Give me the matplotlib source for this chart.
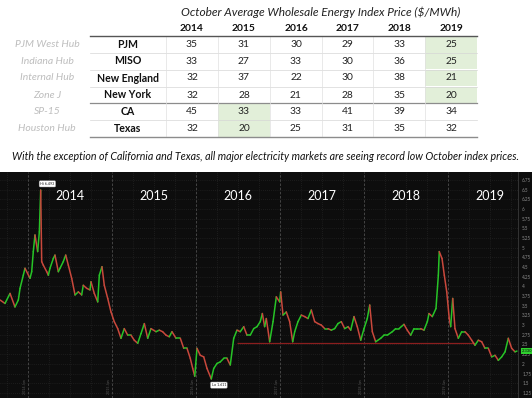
import numpy as np
import matplotlib
matplotlib.use("Agg")
import matplotlib.pyplot as plt
from matplotlib.patches import Rectangle
from matplotlib.collections import LineCollection

plt.rcParams['font.family'] = ['Lato', 'DejaVu Sans']

# ---------------- table data ----------------
years = [2014, 2015, 2016, 2017, 2018, 2019]
markets = ['PJM', 'MISO', 'New England', 'New York', 'CA', 'Texas']
hubs = ['PJM West Hub', 'Indiana Hub', 'Internal Hub', 'Zone J', 'SP-15', 'Houston Hub']
pjm = [35, 31, 30, 29, 33, 25]
miso = [33, 27, 33, 30, 36, 25]
new_england = [32, 37, 22, 30, 38, 21]
new_york = [32, 28, 21, 28, 35, 20]
ca = [45, 33, 33, 41, 39, 34]
texas = [32, 20, 25, 31, 35, 32]
record_low = [(0, 5), (1, 5), (2, 5), (3, 5), (4, 1), (5, 1)]   # (row, year index)
title = "October Average Wholesale Energy Index Price ($/MWh)"
caption = ("With the exception of California and Texas, all major electricity "
           "markets are seeing record low October index prices.")

# ---------------- natural gas price series (decimal year, $) ----------------
t_gas = [2013.667, 2013.726, 2013.786, 2013.845, 2013.885, 2013.905, 2013.944, 2013.964,
         2014.024, 2014.044, 2014.063, 2014.083, 2014.115, 2014.135, 2014.151, 2014.163,
         2014.182, 2014.223, 2014.242, 2014.262, 2014.301, 2014.321, 2014.361, 2014.381,
         2014.420, 2014.449, 2014.480, 2014.520, 2014.560, 2014.599, 2014.639, 2014.658,
         2014.699, 2014.738,
         2014.750, 2014.789, 2014.830, 2014.849, 2014.881, 2014.908, 2014.949, 2014.988,
         2015.027, 2015.068, 2015.107, 2015.146, 2015.187, 2015.226, 2015.265, 2015.306,
         2015.345, 2015.385, 2015.425, 2015.464, 2015.524, 2015.563, 2015.603, 2015.643,
         2015.682,
         2015.714, 2015.762, 2015.813, 2015.854, 2015.893, 2015.932, 2015.961, 2015.985,
         2016.012, 2016.051, 2016.092, 2016.131, 2016.182, 2016.211, 2016.250, 2016.289,
         2016.330, 2016.369, 2016.408, 2016.449, 2016.488, 2016.527, 2016.568, 2016.607,
         2016.646, 2016.687, 2016.726, 2016.765,
         2016.790, 2016.817, 2016.837, 2016.877, 2016.917, 2016.956, 2016.996, 2017.008,
         2017.036, 2017.075, 2017.115, 2017.151, 2017.175, 2017.214, 2017.254, 2017.294,
         2017.333, 2017.373, 2017.413, 2017.452, 2017.492, 2017.532, 2017.571, 2017.611,
         2017.651, 2017.690, 2017.730, 2017.770,
         2017.810, 2017.842, 2017.881, 2017.920, 2017.961, 2018.000, 2018.039, 2018.068,
         2018.099, 2018.139, 2018.199, 2018.238, 2018.277, 2018.337, 2018.377, 2018.417,
         2018.476, 2018.515, 2018.556, 2018.595, 2018.635, 2018.675, 2018.714, 2018.754,
         2018.774, 2018.813,
         2018.857, 2018.885, 2018.896, 2018.929, 2018.956, 2018.985, 2019.015, 2019.032,
         2019.056, 2019.083, 2019.123, 2019.163, 2019.202, 2019.242, 2019.282, 2019.321,
         2019.361, 2019.401, 2019.440, 2019.480, 2019.520, 2019.560, 2019.599, 2019.639,
         2019.679, 2019.718, 2019.758, 2019.798, 2019.821]
p_gas = [3.65, 3.56, 3.82, 3.47, 3.65, 3.95, 4.29, 4.47,
         4.21, 4.38, 4.90, 5.33, 4.90, 5.41, 6.49, 4.64,
         4.55, 4.38, 4.29, 4.47, 4.72, 4.81, 4.38, 4.47,
         4.64, 4.81, 4.55, 4.21, 3.78, 3.86, 3.78, 4.03,
         3.95, 3.91,
         4.12, 3.82, 3.60, 4.29, 4.51, 4.03, 3.69, 3.34,
         3.09, 2.91, 2.66, 2.91, 2.74, 2.74, 2.61, 2.53,
         2.78, 3.04, 2.66, 2.91, 2.83, 2.87, 2.83, 2.74,
         2.70,
         2.83, 2.66, 2.66, 2.40, 2.40, 2.14, 1.88, 1.68,
         2.40, 2.22, 2.18, 1.88, 1.61, 1.88, 2.01, 2.05,
         2.14, 2.14, 1.97, 2.66, 2.87, 2.83, 2.96, 2.74,
         2.74, 2.91, 2.96, 3.09,
         3.30, 2.96, 3.17, 2.57, 3.09, 3.73, 3.60, 3.86,
         3.26, 3.34, 3.09, 2.57, 2.83, 3.09, 3.26, 3.22,
         3.17, 3.39, 3.09, 3.04, 3.00, 2.91, 2.91, 2.87,
         2.91, 3.04, 3.09, 2.91,
         2.96, 2.87, 3.22, 2.96, 2.61, 2.91, 3.17, 3.52,
         2.83, 2.57, 2.66, 2.74, 2.74, 2.83, 2.91, 2.91,
         3.02, 2.87, 2.74, 2.91, 2.91, 2.91, 2.87, 3.09,
         3.30, 3.22,
         3.43, 4.29, 4.90, 4.72, 4.29, 3.86, 3.17, 2.96,
         3.69, 2.91, 2.66, 2.83, 2.83, 2.74, 2.61, 2.48,
         2.61, 2.57, 2.40, 2.40, 2.18, 2.22, 2.09, 2.18,
         2.31, 2.66, 2.40, 2.31, 2.33]
hi_value = 6.493
lo_value = 1.611
support_level = 2.53
support_span = (2016.49, 2019.32)
price_ticks = [1.25, 1.5, 1.75, 2, 2.25, 2.5, 2.75, 3, 3.25, 3.5, 3.75, 4, 4.25,
               4.5, 4.75, 5, 5.25, 5.5, 5.75, 6, 6.25, 6.5, 6.75]

# ---------------- figure ----------------
W, H = 532, 398
fig = plt.figure(figsize=(W / 100, H / 100), dpi=100)
fig.patch.set_facecolor('white')

# overlay axes in pixel coordinates for the table part
tab = fig.add_axes([0, 0, 1, 1])
tab.set_xlim(0, W)
tab.set_ylim(H, 0)
tab.axis('off')

col_edges = [166, 218, 270, 322, 373, 425, 477]
col_centers = [(a + b) / 2 for a, b in zip(col_edges[:-1], col_edges[1:])]
row_y = [44.3, 61.0, 78.0, 95.0, 111.7, 128.3]
row_h = 16.8
rows = [pjm, miso, new_england, new_york, ca, texas]

tab.text(321, 12.5, title, ha='center', va='center', fontsize=8.6,
         style='italic', color='#222222')
for x, yr in zip(col_centers, years):
    tab.text(x, 28.3, str(yr), ha='center', va='center', fontsize=7.4,
             fontweight='bold', color='#111111')

for (r, c) in record_low:
    tab.add_patch(Rectangle((col_edges[c], row_y[r] - row_h / 2), col_edges[c + 1] - col_edges[c],
                            row_h, facecolor='#e2efd9', edgecolor='none', zorder=0))

for i, (m, h, vals) in enumerate(zip(markets, hubs, rows)):
    y = row_y[i]
    tab.text(47, y, h, ha='center', va='center', fontsize=7.5, style='italic',
             color='#bdbdbd')
    tab.text(128, y, m, ha='center', va='center', fontsize=7.6, fontweight='bold',
             color='#111111')
    for x, v in zip(col_centers, vals):
        tab.text(x, y, str(v), ha='center', va='center', fontsize=7.4, color='#222222')

# row separators
for i in range(1, 6):
    yline = (row_y[i - 1] + row_y[i]) / 2
    lw, colr = (0.5, '#d6d6d6')
    if i == 4:
        lw, colr = (0.9, '#8c8c8c')
    tab.plot([90, 477], [yline, yline], color=colr, lw=lw, zorder=1)
tab.plot([90, 477], [35.5, 35.5], color='#555555', lw=1.0)
tab.plot([90, 477], [136.5, 136.5], color='#8c8c8c', lw=1.0)
for x in col_edges[:-1]:
    tab.plot([x, x], [36, 136], color='#e0e0e0', lw=0.5, zorder=1)

tab.text(266, 157, caption, ha='center', va='center', fontsize=7.7,
         style='italic', color='#111111')

# dark panel
top_px = 172
tab.add_patch(Rectangle((0, top_px), W, H - top_px, facecolor='#0d0d0d',
                        edgecolor='none', zorder=0))

# ---------------- price chart ----------------
axr = 518 / W
ax = fig.add_axes([0, 0, axr, (H - top_px) / H])
ax.set_facecolor('#0d0d0d')
px_per_unit = 38.7
y_top = 6.75 + (180 - top_px) / px_per_unit
y_bot = 6.75 - (H - 180) / px_per_unit
ax.set_ylim(y_bot, y_top)
ax.set_xlim(2014 - 28 / 84, 2014 + 490 / 84)

# grid
for v in price_ticks:
    ax.axhline(v, color='#2b2b2b', lw=0.5, ls=(0, (1, 2)), zorder=1)
for yr in range(2013, 2020):
    for q in (0.25, 0.5, 0.75):
        ax.axvline(yr + q, color='#2b2b2b', lw=0.5, ls=(0, (1, 2)), zorder=1)
for yr in years:
    ax.axvline(yr, color='#4d4d4d', lw=0.6, ls=(0, (3, 2)), zorder=1)
    ax.text(yr - 0.03, y_bot + 0.1, f"{yr} Jan", rotation=90, fontsize=2.6,
            color='#555555', ha='center', va='bottom')
    ax.text(yr + 0.5, 0.895, str(yr), transform=ax.get_xaxis_transform(),
            ha='center', va='center', fontsize=9, color='white')

# support line
ax.hlines(support_level, support_span[0], support_span[1], color='#8b1e1e', lw=0.9, zorder=2)

# price path, coloured by direction
pts = np.column_stack([t_gas, p_gas])
segs = np.stack([pts[:-1], pts[1:]], axis=1)
diff = np.diff(p_gas)
cols = ['#27c427' if d >= 0 else '#c9483c' for d in diff]
lc = LineCollection(segs, colors=cols, linewidths=1.1, zorder=3, capstyle='round')
ax.add_collection(lc)

# hi / lo labels
i_hi = int(np.argmax(p_gas))
i_lo = int(np.argmin(p_gas))
ax.annotate(f"Hi {hi_value:.3f}", xy=(t_gas[i_hi], p_gas[i_hi]),
            xytext=(t_gas[i_hi] + 0.08, 6.65), fontsize=2.7, color='#222222',
            ha='center', va='center',
            bbox=dict(boxstyle='round,pad=0.3', fc='white', ec='#999999', lw=0.3), zorder=5)
ax.annotate(f"Lo {lo_value:.3f}", xy=(t_gas[i_lo], p_gas[i_lo]),
            xytext=(t_gas[i_lo] + 0.09, 1.45), fontsize=2.7, color='#222222',
            ha='center', va='center',
            bbox=dict(boxstyle='round,pad=0.3', fc='white', ec='#999999', lw=0.3), zorder=5)

# right axis
ax.yaxis.tick_right()
ax.set_yticks(price_ticks)
ax.set_yticklabels([f"{v:g}" for v in price_ticks])
ax.tick_params(axis='y', labelsize=3.3, colors='#8a8a8a', length=0, pad=3)
ax.set_xticks([])
for s in ('top', 'left', 'bottom'):
    ax.spines[s].set_visible(False)
ax.spines['right'].set_color('#3a3a3a')
ax.spines['right'].set_linewidth(0.6)

ax.annotate(f"{p_gas[-1]:.3f}", xy=(1.0, p_gas[-1]), xycoords=('axes fraction', 'data'),
            xytext=(3, 0), textcoords='offset points', fontsize=3, color='#0b0b0b',
            ha='left', va='center', annotation_clip=False,
            bbox=dict(boxstyle='square,pad=0.2', fc='#2fd12f', ec='none'), zorder=6)

fig.savefig('out.png', dpi=100, facecolor='white')
